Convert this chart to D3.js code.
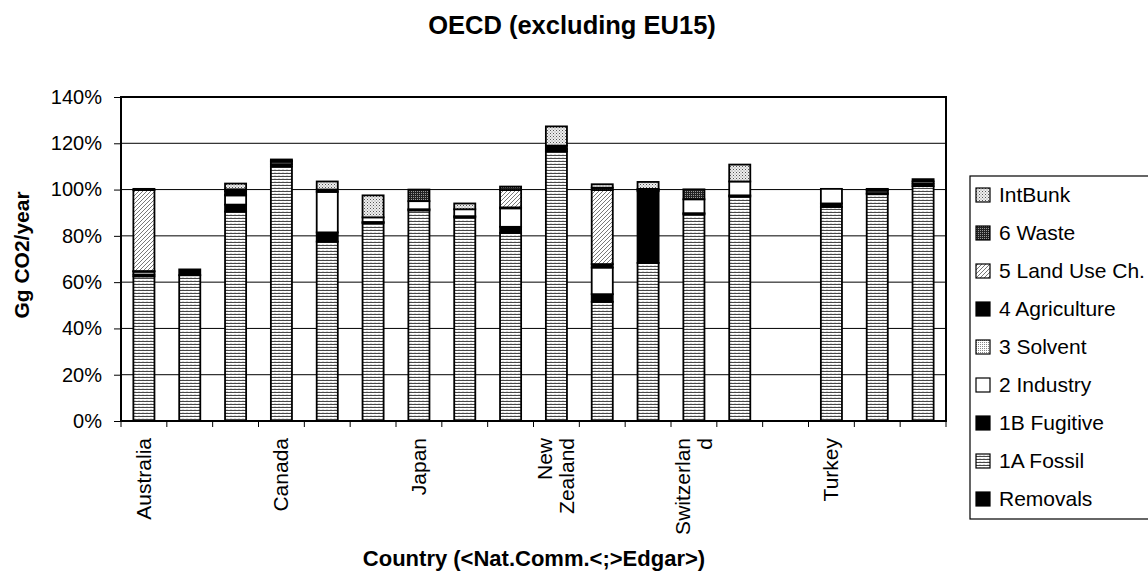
<!DOCTYPE html>
<html>
<head>
<meta charset="utf-8">
<script src="https://cdn.jsdelivr.net/npm/d3@7"></script>
<style>
  body { margin: 0; background: #fff; }
  svg { display: block; font-family: "Liberation Sans", Arial, sans-serif; }
</style>
</head>
<body>
<svg id="chart"></svg>
<script>
// Categories (18 slots, only every third one gets a visible label)
const categories = d3.range(18);
const tickLabels = ["Australia", "", "", "Canada", "", "", "Japan", "", "",
  "New\nZealand", "", "", "Switzerlan\nd", "", "", "Turkey", "", ""];

// Series values in % (stack order bottom -> top)
const removals     = [0, 0, 0, 0, 0, 0, 0, 0, 0, 0, 0, 0, 0, 0, 0, 0, 0, 0];
const fossil1A     = [62.5, 63, 90.5, 110, 77.5, 85.5, 91, 88, 81.3, 116.5, 51.5, 68.3, 89.3, 97, 0, 92.5, 98, 101.5];
const fugitive1B   = [0.8, 2.5, 3, 1, 4, 0.5, 0.5, 0.5, 2.6, 1, 3.3, 31, 0.5, 0.5, 0, 1.5, 0.5, 1];
const industry2    = [1.2, 0, 4, 1, 17.5, 2, 3.5, 3, 8, 0, 11.5, 0.5, 6, 6, 0, 6.3, 1, 1];
const solvent3     = [0, 0, 0.3, 0, 0, 0, 0, 0, 0, 0, 0, 0, 0, 0, 0, 0, 0, 0];
const agriculture4 = [0.3, 0, 1.5, 0.5, 1, 0, 0, 0, 0.4, 1.5, 1.5, 0.5, 0, 0, 0, 0, 0.5, 1];
const landUse5     = [35, 0, 0, 0, 0, 0, 0, 0, 7.5, 0, 32, 0, 0, 0, 0, 0, 0, 0];
const waste6       = [0.5, 0, 0.8, 0.5, 0, 0, 5, 0, 1.5, 0, 1, 0, 4.3, 0, 0, 0, 0.3, 0];
const intBunk      = [0, 0, 2.5, 0, 3.5, 9.5, 0, 2.5, 0, 8.3, 1.5, 3, 0, 7.3, 0, 0, 0, 0];

const yTicks = [0, 20, 40, 60, 80, 100, 120, 140];

const seriesDefs = [
  { key: "Removals", values: removals, fill: "#000" },
  { key: "1A Fossil", values: fossil1A, fill: "url(#pFossil)" },
  { key: "1B Fugitive", values: fugitive1B, fill: "#000" },
  { key: "2 Industry", values: industry2, fill: "#fff" },
  { key: "3 Solvent", values: solvent3, fill: "url(#pSolvent)" },
  { key: "4 Agriculture", values: agriculture4, fill: "#000" },
  { key: "5 Land Use Ch.", values: landUse5, fill: "url(#pLand)" },
  { key: "6 Waste", values: waste6, fill: "url(#pWaste)" },
  { key: "IntBunk", values: intBunk, fill: "url(#pBunk)" }
];

const width = 1148, height = 576;
const margin = { top: 97, left: 121 };
const plotW = 825, plotH = 324;

const svg = d3.select("#chart").attr("width", width).attr("height", height);

// Patterns
const defs = svg.append("defs");
const pf = defs.append("pattern").attr("id", "pFossil").attr("patternUnits", "userSpaceOnUse")
  .attr("width", 4).attr("height", 3);
pf.append("rect").attr("width", 4).attr("height", 3).attr("fill", "#fff");
pf.append("path").attr("d", "M0,0.8 L1,2 L2,0.8 L3,2 L4,0.8").attr("fill", "none")
  .attr("stroke", "#222").attr("stroke-width", 0.9);

const pb = defs.append("pattern").attr("id", "pBunk").attr("patternUnits", "userSpaceOnUse")
  .attr("width", 3).attr("height", 3);
pb.append("rect").attr("width", 3).attr("height", 3).attr("fill", "#eee");
pb.append("rect").attr("x", 0).attr("y", 0).attr("width", 1).attr("height", 1).attr("fill", "#555");
pb.append("rect").attr("x", 1.5).attr("y", 1.5).attr("width", 1).attr("height", 1).attr("fill", "#888");

const ps = defs.append("pattern").attr("id", "pSolvent").attr("patternUnits", "userSpaceOnUse")
  .attr("width", 2).attr("height", 2);
ps.append("rect").attr("width", 2).attr("height", 2).attr("fill", "#fff");
ps.append("rect").attr("width", 1).attr("height", 1).attr("fill", "#888");

const pw = defs.append("pattern").attr("id", "pWaste").attr("patternUnits", "userSpaceOnUse")
  .attr("width", 2).attr("height", 2);
pw.append("rect").attr("width", 2).attr("height", 2).attr("fill", "#222");
pw.append("rect").attr("width", 1).attr("height", 1).attr("fill", "#999");

const pl = defs.append("pattern").attr("id", "pLand").attr("patternUnits", "userSpaceOnUse")
  .attr("width", 4).attr("height", 4);
pl.append("rect").attr("width", 4).attr("height", 4).attr("fill", "#fff");
pl.append("path").attr("d", "M-1,5 L5,-1 M-1,1 L1,-1 M3,5 L5,3").attr("stroke", "#555").attr("stroke-width", 0.8);

// Scales
const x = d3.scaleBand().domain(categories).range([0, plotW]).padding(0);
const y = d3.scaleLinear().domain([0, 140]).range([plotH, 0]);
const barW = x.bandwidth() * 0.46;

const g = svg.append("g").attr("transform", `translate(${margin.left},${margin.top})`);

// Gridlines
g.append("g")
  .selectAll("line")
  .data(yTicks.filter(d => d > 0 && d < 140))
  .join("line")
  .attr("x1", 0).attr("x2", plotW)
  .attr("y1", d => y(d)).attr("y2", d => y(d))
  .attr("stroke", "#000").attr("stroke-width", 1);

// Stack
const table = categories.map(i => {
  const row = { i };
  seriesDefs.forEach(s => { row[s.key] = s.values[i]; });
  return row;
});
const stacked = d3.stack().keys(seriesDefs.map(s => s.key))(table);

stacked.forEach((layer, li) => {
  g.append("g")
    .selectAll("rect")
    .data(layer.filter(d => d[1] - d[0] > 0))
    .join("rect")
    .attr("x", d => x(d.data.i) + (x.bandwidth() - barW) / 2)
    .attr("width", barW)
    .attr("y", d => y(d[1]))
    .attr("height", d => y(d[0]) - y(d[1]))
    .attr("fill", seriesDefs[li].fill)
    .attr("stroke", "#000")
    .attr("stroke-width", 1.8);
});

// Plot border
g.append("rect").attr("width", plotW).attr("height", plotH)
  .attr("fill", "none").attr("stroke", "#000").attr("stroke-width", 2);

// Y axis
const yAxis = g.append("g")
  .call(d3.axisLeft(y).tickValues(yTicks).tickFormat(d => d + "%").tickSize(7).tickPadding(12));
yAxis.select(".domain").remove();
yAxis.selectAll("line").attr("stroke", "#000");
yAxis.selectAll("text").attr("font-size", 20).attr("fill", "#000")
  .attr("font-family", "Liberation Sans, Arial, sans-serif");

// X axis ticks at category boundaries
g.append("g")
  .selectAll("line")
  .data(d3.range(19))
  .join("line")
  .attr("x1", d => d * x.step()).attr("x2", d => d * x.step())
  .attr("y1", plotH).attr("y2", plotH + 6)
  .attr("stroke", "#000");

// X labels (rotated)
categories.forEach(i => {
  const lbl = tickLabels[i];
  if (!lbl) return;
  const lines = lbl.split("\n");
  const cx = x(i) + x.bandwidth() / 2;
  lines.forEach((ln, k) => {
    const off = (k - (lines.length - 1) / 2) * 22;
    g.append("text")
      .attr("transform", `translate(${cx + off + 7},${plotH + 17}) rotate(-90)`)
      .attr("text-anchor", "end")
      .attr("font-size", 21)
      .text(ln);
  });
});

// Titles
svg.append("text").attr("x", 572).attr("y", 34).attr("text-anchor", "middle")
  .attr("font-size", 25.5).attr("font-weight", "bold").text("OECD (excluding EU15)");

svg.append("text").attr("transform", `translate(29,255) rotate(-90)`)
  .attr("text-anchor", "middle").attr("font-size", 21).attr("font-weight", "bold")
  .text("Gg CO2/year");

svg.append("text").attr("x", 534).attr("y", 566).attr("text-anchor", "middle")
  .attr("font-size", 22).attr("font-weight", "bold").text("Country (<Nat.Comm.<;>Edgar>)");

// Legend
const legendItems = seriesDefs.slice().reverse();
const lg = svg.append("g").attr("transform", "translate(970,176)");
lg.append("rect").attr("width", 190).attr("height", 343)
  .attr("fill", "#fff").attr("stroke", "#000").attr("stroke-width", 1.2);
legendItems.forEach((s, k) => {
  const yy = 19 + k * 38;
  lg.append("rect").attr("x", 6).attr("y", yy - 7).attr("width", 14).attr("height", 14)
    .attr("fill", s.fill).attr("stroke", "#000").attr("stroke-width", 1.2);
  lg.append("text").attr("x", 29).attr("y", yy + 7).attr("font-size", 21).text(s.key);
});
</script>
</body>
</html>
